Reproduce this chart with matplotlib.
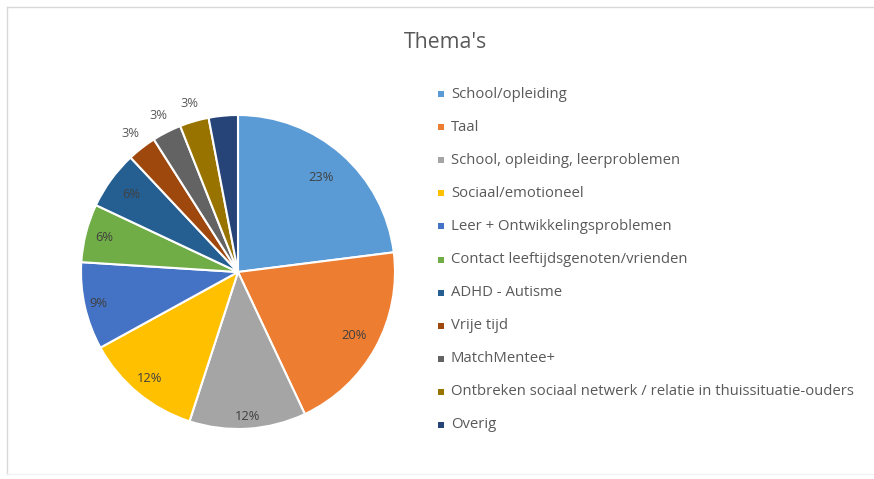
import matplotlib
matplotlib.use("Agg")
import matplotlib.pyplot as plt
import numpy as np
from matplotlib.patches import Rectangle
from matplotlib.lines import Line2D

categories = ["School/opleiding", "Taal", "School, opleiding, leerproblemen",
              "Sociaal/emotioneel", "Leer + Ontwikkelingsproblemen",
              "Contact leeftijdsgenoten/vrienden", "ADHD - Autisme", "Vrije tijd",
              "MatchMentee+", "Ontbreken sociaal netwerk / relatie in thuissituatie-ouders",
              "Overig"]
values = [23, 20, 12, 12, 9, 6, 6, 3, 3, 3, 3]
colors = ["#5B9BD5", "#ED7D31", "#A5A5A5", "#FFC000", "#4472C4", "#70AD47",
          "#255E91", "#9E480E", "#636363", "#997300", "#264478"]
title = "Thema's"

plt.rcParams['font.family'] = ['Open Sans', 'DejaVu Sans']
W, H = 874, 479
fig = plt.figure(figsize=(W / 100, H / 100), dpi=100)
fig.patch.set_facecolor("white")

# pie axes: center (238, 272), radius ~157 px
cx, cy, r = 238, 272, 157
ax = fig.add_axes([(cx - r) / W, 1 - (cy + r) / H, 2 * r / W, 2 * r / H])
wedges, _ = ax.pie(values, colors=colors, startangle=90, counterclock=False,
                   radius=1.0, wedgeprops=dict(edgecolor="white", linewidth=1.5))
ax.set_xlim(-1, 1)
ax.set_ylim(-1, 1)
ax.set_aspect("equal")
ax.axis("off")

total = sum(values)
inner_dist = [0.80, 0.84, 0.92, 0.88, 0.91, 0.88, 0.84]
cum = 0
for i, v in enumerate(values):
    mid = 90 - (cum + v / 2) / total * 360
    cum += v
    lbl = f"{v}%"
    if i < len(inner_dist):
        d = inner_dist[i]
        ax.text(d * np.cos(np.radians(mid)), d * np.sin(np.radians(mid)), lbl,
                ha="center", va="center", fontsize=9.3, color="#404040")
    elif i < len(values) - 1:
        d = 1.12
        ax.text(d * np.cos(np.radians(mid)), d * np.sin(np.radians(mid)), lbl,
                ha="center", va="center", fontsize=9.3, color="#595959")

# title
fig.text(446 / W, 1 - 42 / H, title, ha="center", va="center", fontsize=15.3,
         color="#595959")

# legend (manual)
y0, dy = 94, 33.1
for i, name in enumerate(categories):
    y = y0 + i * dy
    fig.patches.append(Rectangle((438 / W, 1 - (y + 3) / H), 6 / W, 6 / H,
                                 transform=fig.transFigure, facecolor=colors[i],
                                 edgecolor="none"))
    fig.text(451 / W, 1 - y / H, name, ha="left", va="center", fontsize=10.7,
             color="#595959")

# chart border
bc = "#D9D9D9"
fig.add_artist(Line2D([7 / W, 7 / W], [1 - 7 / H, 1 - 474 / H], color=bc, lw=1,
                      transform=fig.transFigure))
fig.add_artist(Line2D([7 / W, 873 / W], [1 - 7 / H, 1 - 7 / H], color=bc, lw=1,
                      transform=fig.transFigure))
fig.add_artist(Line2D([7 / W, 873 / W], [1 - 474 / H, 1 - 474 / H], color="#F2F2F2", lw=1,
                      transform=fig.transFigure))

fig.savefig("out.png", dpi=100, facecolor="white")
